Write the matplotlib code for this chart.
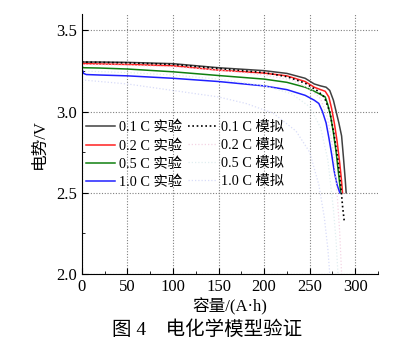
import matplotlib
matplotlib.use("Agg")
import matplotlib.pyplot as plt
from matplotlib.ticker import MultipleLocator

plt.rcParams['font.family'] = ['Liberation Serif', 'Noto Sans CJK SC']
plt.rcParams['axes.unicode_minus'] = False

# experiment curves: capacity (A·h) / voltage (V)
cap_01 = [0, 0.5, 2, 20, 50, 100, 150, 200, 225, 245, 255, 262, 268, 272, 276, 279, 282, 285, 287, 289, 290]
v_01 = [3.36, 3.31, 3.305, 3.305, 3.303, 3.295, 3.27, 3.252, 3.235, 3.205, 3.17, 3.158, 3.15, 3.13, 3.07, 3.0, 2.93, 2.85, 2.72, 2.58, 2.5]
cap_02 = [0, 0.5, 2, 20, 50, 100, 150, 200, 225, 245, 255, 262, 267, 271, 274, 277, 280, 283, 285, 286]
v_02 = [3.36, 3.30, 3.295, 3.293, 3.29, 3.282, 3.255, 3.237, 3.22, 3.185, 3.15, 3.135, 3.125, 3.09, 3.02, 2.93, 2.82, 2.68, 2.57, 2.5]
cap_05 = [0, 0.5, 2, 20, 50, 100, 150, 200, 225, 245, 255, 262, 267, 270, 273, 276, 279, 282, 284]
v_05 = [3.33, 3.275, 3.27, 3.268, 3.262, 3.245, 3.222, 3.2, 3.18, 3.15, 3.125, 3.105, 3.09, 3.04, 2.97, 2.87, 2.75, 2.6, 2.5]
cap_10 = [0, 0.5, 2, 5, 20, 50, 100, 150, 200, 225, 245, 255, 260, 264, 268, 271, 274, 277, 280, 283]
v_10 = [3.31, 3.26, 3.235, 3.228, 3.225, 3.22, 3.205, 3.185, 3.158, 3.135, 3.1, 3.07, 3.05, 3.0, 2.93, 2.84, 2.74, 2.63, 2.55, 2.5]

# simulation curves
sim_cap_01 = [0, 20, 50, 100, 150, 200, 225, 245, 258, 266, 272, 277, 281, 284, 286, 288]
sim_v_01 = [3.305, 3.303, 3.3, 3.29, 3.265, 3.24, 3.215, 3.175, 3.13, 3.09, 3.0, 2.85, 2.7, 2.55, 2.42, 2.32]
sim_cap_02 = [0, 50, 100, 150, 200, 230, 250, 262, 270, 276, 280, 283, 285]
sim_v_02 = [3.29, 3.285, 3.275, 3.255, 3.225, 3.195, 3.14, 3.08, 2.95, 2.75, 2.5, 2.25, 2.0]
sim_cap_05 = [0, 50, 100, 150, 200, 230, 250, 262, 270, 276, 279, 281]
sim_v_05 = [3.25, 3.24, 3.225, 3.2, 3.16, 3.11, 3.03, 2.9, 2.7, 2.4, 2.2, 2.0]
sim_cap_10 = [0, 50, 100, 150, 180, 210, 235, 250, 260, 266, 270, 272]
sim_v_10 = [3.195, 3.17, 3.13, 3.09, 3.05, 2.99, 2.88, 2.75, 2.55, 2.35, 2.15, 2.0]

labels_exp = ['0.1 C 实验', '0.2 C 实验', '0.5 C 实验', '1.0 C 实验']
labels_sim = ['0.1 C 模拟', '0.2 C 模拟', '0.5 C 模拟', '1.0 C 模拟']

fig = plt.figure(figsize=(4.15, 3.45), dpi=100)
ax = fig.add_axes([0.197, 0.206, 0.714, 0.753])

h1, = ax.plot(cap_01, v_01, color='#404040', lw=1.1)
h2, = ax.plot(cap_02, v_02, color='#ff2020', lw=1.1)
h3, = ax.plot(cap_05, v_05, color='#108010', lw=1.1)
h4, = ax.plot(cap_10, v_10, color='#2020ff', lw=1.1)
s1, = ax.plot(sim_cap_01, sim_v_01, color='black', lw=1.2, linestyle=(0, (1, 1.6)))
s2, = ax.plot(sim_cap_02, sim_v_02, color='#f4d4e4', lw=0.9, linestyle=(0, (1, 1.6)))
s3, = ax.plot(sim_cap_05, sim_v_05, color='#e0eef0', lw=0.9, linestyle=(0, (1, 1.6)))
s4, = ax.plot(sim_cap_10, sim_v_10, color='#d8dcf8', lw=0.9, linestyle=(0, (1, 1.6)))

ax.set_xlim(0, 325)
ax.set_ylim(2.0, 3.6)
ax.xaxis.set_major_locator(MultipleLocator(50))
ax.xaxis.set_minor_locator(MultipleLocator(25))
ax.yaxis.set_major_locator(MultipleLocator(0.5))
ax.yaxis.set_minor_locator(MultipleLocator(0.25))
ax.yaxis.set_major_formatter(plt.FormatStrFormatter('%.1f'))
ax.tick_params(which='both', direction='in', labelsize=12)
ax.tick_params(which='major', length=4)
ax.tick_params(which='minor', length=2)
ax.spines['top'].set_visible(False)
ax.spines['right'].set_visible(False)
ax.grid(True, which='major', color='gray', linestyle=(0, (1, 1.5)), lw=0.8)

ax.set_xlabel('容量/(A·h)', fontsize=12, labelpad=2)
ax.set_ylabel('电势/V', fontsize=12, labelpad=6)

ax.legend([h1, h2, h3, h4, s1, s2, s3, s4], labels_exp + labels_sim, ncol=2,
          frameon=False, fontsize=10.3, loc='upper left', bbox_to_anchor=(0.005, 0.60),
          borderaxespad=0, borderpad=0.2,
          handlelength=2.0, handletextpad=0.3, columnspacing=0.4, labelspacing=0.33)

fig.text(0.5, 0.045, '图 4    电化学模型验证', ha='center', va='center', fontsize=14)

fig.savefig('out.png', dpi=100)
